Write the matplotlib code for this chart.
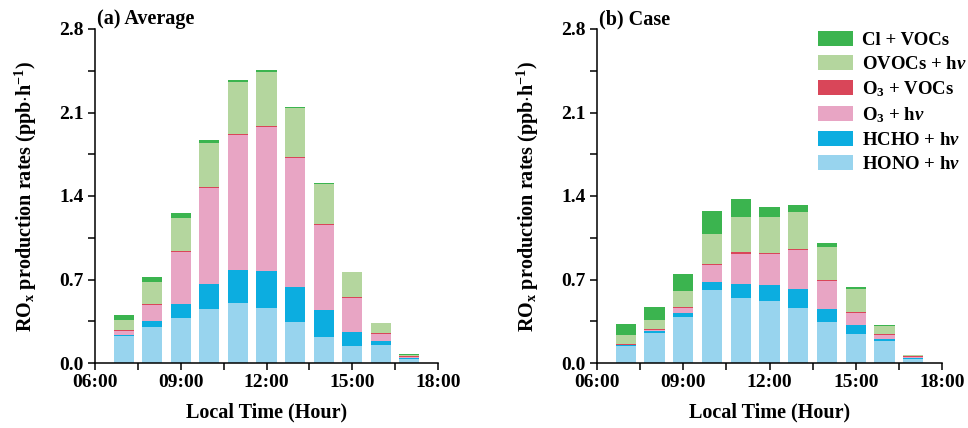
import numpy as np
import matplotlib
matplotlib.use('Agg')
import matplotlib.pyplot as plt
from matplotlib.ticker import MultipleLocator, FuncFormatter

plt.rcParams['font.family'] = ['Liberation Serif', 'DejaVu Serif']
plt.rcParams['font.weight'] = 'bold'
plt.rcParams['mathtext.fontset'] = 'custom'
plt.rcParams['mathtext.rm'] = 'Liberation Serif:bold'
plt.rcParams['mathtext.bf'] = 'Liberation Serif:bold'
plt.rcParams['mathtext.it'] = 'Liberation Serif:italic:bold'
plt.rcParams['mathtext.default'] = 'bf'

# hour of day (bars centred on each hour)
hours = np.arange(7, 18)

# (a) average RO_x production rates by pathway, ppb/h
avg_hono = [0.226, 0.298, 0.379, 0.454, 0.499, 0.460, 0.343, 0.220, 0.142, 0.150, 0.033]
avg_hcho = [0.008, 0.051, 0.117, 0.212, 0.279, 0.312, 0.295, 0.226, 0.117, 0.037, 0.006]
avg_o3hv = [0.036, 0.139, 0.432, 0.800, 1.137, 1.210, 1.082, 0.711, 0.287, 0.055, 0.014]
avg_o3voc = [0.008, 0.008, 0.008, 0.008, 0.008, 0.008, 0.008, 0.008, 0.009, 0.009, 0.006]
avg_ovoc = [0.084, 0.181, 0.282, 0.368, 0.432, 0.449, 0.407, 0.332, 0.204, 0.081, 0.011]
avg_cl = [0.040, 0.045, 0.042, 0.031, 0.020, 0.017, 0.014, 0.011, 0.008, 0.005, 0.002]

# (b) case day
case_hono = [0.145, 0.248, 0.387, 0.608, 0.549, 0.516, 0.463, 0.343, 0.242, 0.186, 0.035]
case_hcho = [0.005, 0.017, 0.028, 0.075, 0.114, 0.136, 0.156, 0.111, 0.073, 0.017, 0.005]
case_o3hv = [0.003, 0.011, 0.045, 0.139, 0.248, 0.259, 0.326, 0.234, 0.105, 0.031, 0.010]
case_o3voc = [0.008, 0.008, 0.008, 0.008, 0.020, 0.009, 0.008, 0.009, 0.009, 0.011, 0.005]
case_ovoc = [0.073, 0.075, 0.134, 0.249, 0.296, 0.301, 0.312, 0.278, 0.190, 0.067, 0.008]
case_cl = [0.089, 0.107, 0.145, 0.192, 0.150, 0.083, 0.056, 0.034, 0.016, 0.008, 0.004]

labels = ['HONO + h$\\mathit{\\nu}$', 'HCHO + h$\\mathit{\\nu}$', 'O$_3$ + h$\\mathit{\\nu}$',
          'O$_3$ + VOCs', 'OVOCs + h$\\mathit{\\nu}$', 'Cl + VOCs']
colors = ['#98d4ee', '#0cade0', '#e8a5c4', '#d94659', '#b4d69e', '#3bb44f']

panels = [
    ('(a) Average', [avg_hono, avg_hcho, avg_o3hv, avg_o3voc, avg_ovoc, avg_cl]),
    ('(b) Case', [case_hono, case_hcho, case_o3hv, case_o3voc, case_ovoc, case_cl]),
]

fig = plt.figure(figsize=(9.68, 4.28), dpi=100)
ax_a = fig.add_axes([95 / 968, 1 - 363 / 428, 343 / 968, 334 / 428])
ax_b = fig.add_axes([597 / 968, 1 - 363 / 428, 345 / 968, 334 / 428])

handles = []
for ax, (title, comps) in zip([ax_a, ax_b], panels):
    bottom = np.zeros(len(hours))
    handles = []
    for vals, c, lab in zip(comps, colors, labels):
        b = ax.bar(hours, vals, width=0.7, bottom=bottom, color=c, label=lab, linewidth=0)
        handles.append(b)
        bottom += np.array(vals)

    ax.set_xlim(6, 18)
    ax.set_ylim(0, 2.8)
    ax.xaxis.set_major_locator(MultipleLocator(3))
    ax.xaxis.set_minor_locator(MultipleLocator(1.5))
    ax.xaxis.set_major_formatter(FuncFormatter(lambda v, p: '%02d:00' % int(v)))
    ax.yaxis.set_major_locator(MultipleLocator(0.7))
    ax.yaxis.set_minor_locator(MultipleLocator(0.35))
    ax.yaxis.set_major_formatter(FuncFormatter(lambda v, p: '%.1f' % v))
    ax.tick_params(which='both', direction='out', width=1.1, labelsize=14)
    ax.tick_params(which='major', length=5, pad=3)
    ax.tick_params(which='minor', length=5)
    for s in ['top', 'right']:
        ax.spines[s].set_visible(False)
    for s in ['left', 'bottom']:
        ax.spines[s].set_linewidth(1.1)
    for lab in ax.get_xticklabels() + ax.get_yticklabels():
        lab.set_fontweight('bold')

    ax.set_xlabel('Local Time (Hour)', fontsize=14.5, fontweight='bold', labelpad=8)
    ax.set_ylabel('RO$_x$ production rates (ppb$\\cdot$h$^{-1}$)', fontsize=14.5,
                  fontweight='bold', labelpad=15)
    ax.text(0.006, 1.0, title, transform=ax.transAxes, fontsize=14.5,
            fontweight='bold', ha='left', va='bottom')

# legend listed top-down from the upper layer
ax_b.legend(handles[::-1], labels[::-1], loc='upper left',
            bbox_to_anchor=(818 / 968, 1 - 31 / 428), bbox_transform=fig.transFigure,
            frameon=False, fontsize=13.5, handlelength=1.85, handleheight=0.85,
            handletextpad=0.5, labelspacing=0.33, borderpad=0, borderaxespad=0)

fig.savefig('out.png', dpi=100)
